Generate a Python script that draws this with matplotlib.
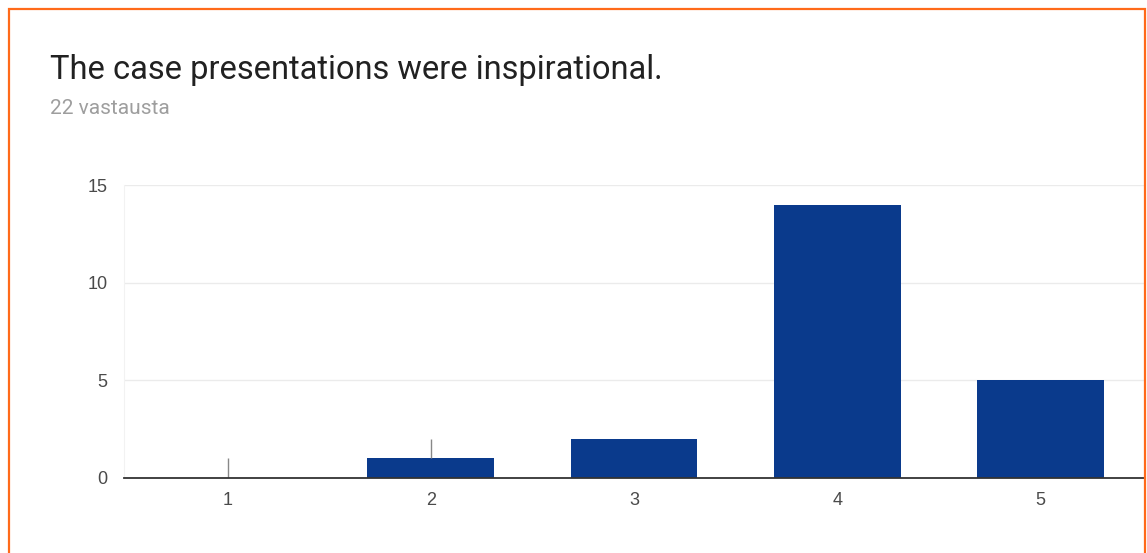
"""Google Forms style bar chart: case presentations."""

import matplotlib.pyplot as plt
from matplotlib.patches import Rectangle

TITLE = 'The case presentations were inspirational.'
SUBTITLE = '22 vastausta'
CATEGORIES = [1, 2, 3, 4, 5]
COUNTS = [0, 1, 2, 14, 5]
YTICKS = [0, 5, 10, 15]

# thin hover stubs left in the screenshot
STUB_X = [1, 2]
STUB_LO = [0, 1]
STUB_HI = [1, 2]

W, H = 1147, 553


def main():
    plt.rcParams['font.family'] = ['Roboto', 'DejaVu Sans']
    fig = plt.figure(figsize=(W / 100, H / 100), dpi=100)

    # orange frame
    fig.patches.append(Rectangle((9 / W, -0.1), (1145 - 9) / W, 1.1 - 9 / H,
                                 transform=fig.transFigure, fill=False,
                                 edgecolor='#ff6a1a', lw=1.6))

    fig.text(50 / W, 1 - 70 / H, TITLE, fontsize=23.5, color='#212121',
             va='center', ha='left')
    fig.text(50 / W, 1 - 108 / H, SUBTITLE, fontsize=15, color='#9e9e9e',
             va='center', ha='left')

    left, right, top, bottom = 124, 1144, 185, 478
    ax = fig.add_axes([left / W, 1 - bottom / H, (right - left) / W,
                       (bottom - top) / H])
    ax.bar(CATEGORIES, COUNTS, width=0.625, color='#0a3a8c', zorder=3)
    ax.vlines(STUB_X, STUB_LO, STUB_HI, color='#888888', lw=1, zorder=4)

    ax.set_xlim(0.49, 5.51)
    ax.set_ylim(0, 15)
    ax.set_yticks(YTICKS)
    ax.set_xticks(CATEGORIES)
    ax.yaxis.grid(True, color='#ebebeb', lw=1)
    ax.set_axisbelow(True)
    for side in ('top', 'right'):
        ax.spines[side].set_visible(False)
    ax.spines['left'].set_color('#f2f2f2')
    ax.spines['bottom'].set_color('#333333')
    ax.spines['bottom'].set_linewidth(1.3)
    ax.spines['bottom'].set_zorder(5)
    ax.tick_params(length=0, labelsize=13, labelcolor='#4a4a4a')
    ax.tick_params(axis='y', pad=12)
    ax.tick_params(axis='x', pad=10)
    for lbl in ax.get_xticklabels() + ax.get_yticklabels():
        lbl.set_family(['Liberation Sans', 'DejaVu Sans'])

    fig.savefig('out.png', dpi=100)


if __name__ == '__main__':
    main()
